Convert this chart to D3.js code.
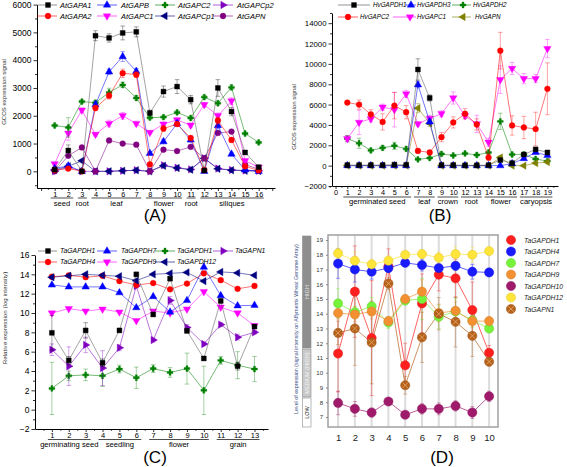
<!DOCTYPE html>
<html><head><meta charset="utf-8">
<script src="https://cdn.jsdelivr.net/npm/d3@7"></script>
<style>body{margin:0;background:#fff}svg{display:block}text{font-family:"Liberation Sans",Arial,sans-serif}</style>
</head><body><svg id="c" width="567" height="467"></svg>
<script>
// ---------------- Panel A data ----------------
const aSamples = d3.range(1, 17);
const aTickLabels = {1:"1",2:"2",3:"3",4:"4",5:"5",6:"6",7:"7",8:"8",9:"9",10:"10",11:"11",12:"12",13:"13",14:"14",15:"15",16:"16"};
const aGroups = ["seed","root","leaf","flower","root","siliques"];
const aGroupSpans = [[1,2],[3,3],[4,7],[8,10],[11,11],[12,16]];
const aYTicks = [0,1000,2000,3000,4000,5000,6000];
const atGAPA1 = [60,750,0,4880,4800,4980,5020,2100,2870,3050,2580,30,3000,2150,680,150];
const atGAPA1Err = [40,200,20,180,150,250,180,100,200,250,150,20,300,150,60,30];
const atGAPA2 = [50,100,0,2280,2720,3530,3480,250,1540,1700,1200,50,1830,1130,180,30];
const atGAPA2Err = [20,30,10,100,120,150,100,50,100,80,60,20,120,80,40,20];
const atGAPB = [100,200,0,2400,3580,4130,3600,650,1070,1720,1130,0,1650,620,50,0];
const atGAPBErr = [30,40,10,120,100,180,100,60,80,100,80,10,120,60,20,10];
const atGAPC2 = [1650,1580,2510,2470,2840,3110,2640,1930,1950,2120,1920,2670,2450,3020,1360,1040];
const atGAPC2Err = [50,350,60,80,150,100,80,60,60,60,60,60,70,80,50,50];
const atGAPC1 = [270,1370,2200,1330,1720,2000,1720,1400,1700,1850,1660,2400,2000,2530,380,150];
const atGAPC1Err = [50,250,80,60,120,120,80,50,70,70,70,80,100,120,50,30];
const atGAPCp1 = [50,180,380,0,0,20,40,0,200,120,60,470,90,40,20,10];
const atGAPCp2 = [0,150,0,0,0,20,40,0,220,130,70,470,100,50,30,20];
const atGAPN = [0,560,860,0,1110,1000,960,0,780,730,880,470,1380,1430,240,80];

// ---------------- Panel B data ----------------
const bPositions = d3.range(1, 19);
const bTickLabels = ["0","1","2","3","4","5","6","7","8","9","10","12","13","14","15","16","17","18","19"];
const bGroups = ["germinated seed","leaf","crown","root","flower","caryopsis"];
const bGroupSpans = [[1,6],[7,8],[9,10],[11,12],[13,15],[16,18]];
const bYTicks = [-2000,0,2000,4000,6000,8000,10000,12000,14000];
const hvGAPDH1 = [50,50,50,50,100,80,9450,6650,50,50,30,30,50,550,250,1100,1600,1300];
const hvGAPDH1Err = [20,20,20,20,30,20,1050,300,20,20,20,20,20,150,60,100,150,150];
const hvGAPDH3 = [0,0,0,0,0,0,7950,4300,0,0,0,0,0,0,200,700,1300,1000];
const hvGAPDH3Err = [0,0,0,0,0,0,300,250,0,0,0,0,0,0,50,100,120,100];
const hvGAPDH2 = [2650,2200,1500,1750,1950,1650,620,750,1150,1000,1200,1050,1300,4350,1100,1100,650,450];
const hvGAPDH2Err = [300,500,150,200,350,200,100,120,150,100,150,100,150,800,150,150,100,100];
const hvGAPC2 = [6200,6000,5050,4300,5900,5250,1450,1300,2800,4250,5100,4050,800,11300,3950,3750,3600,7550];
const hvGAPC2Err = [150,450,450,800,1300,650,200,150,450,550,500,550,300,1800,950,1100,1650,2550];
const hvGAPC1 = [2650,4250,4600,5750,5500,7050,4100,4650,5100,6650,4900,4100,2300,8450,9550,8550,8550,11500];
const hvGAPC1Err = [300,1200,300,300,1700,350,200,300,300,600,250,850,400,1350,600,500,400,900];
const hvGAPN = [0,0,0,0,0,0,5650,4150,0,0,0,0,0,800,0,0,250,350];
const hvGAPNErr = [0,0,0,0,0,0,450,300,0,0,0,0,0,200,0,0,50,50];

// ---------------- Panel C data ----------------
const cSamples = d3.range(1, 14);
const cGroups = ["germinating seed","seedling","flower","grain"];
const cGroupSpans = [[1,3],[4,6],[7,10],[11,13]];
const cYTicks = [-2,0,2,4,6,8,10,12,14,16];
const taC_GAPDH1 = [7.95,5.1,8.2,4.85,8.2,14.0,9.85,13.55,8.15,5.3,11.25,4.5,8.6];
const taC_GAPDH1Err = [1.8,0.4,0.8,0.4,0.2,0.2,0.2,0.2,0.2,0.2,0.2,0.4,0.2];
const taC_GAPDH7 = [12.9,12.7,12.7,12.7,12.1,10.55,11.7,10.1,11.3,14.75,11.8,10.75,10.8];
const taC_GAPDH1g = [2.2,3.5,3.6,3.5,4.2,3.3,4.25,3.85,4.25,2.0,5.1,4.6,4.2];
const taC_GAPDH1gErr = [2.7,0.5,0.6,1.1,0.4,1.1,0.4,0.5,1.6,2.5,0.4,1.4,1.3];
const taC_GAPN1 = [6.2,4.5,6.7,4.3,6.4,12.8,7.2,11.3,8.5,6.8,8.8,7.5,8.0];
const taC_GAPN1Err = [0.6,2.0,0.8,1.8,0.3,0.2,0.2,0.4,0.3,0.2,0.2,0.3,0.2];
const taC_GAPDH4 = [13.75,13.9,13.7,13.85,13.3,12.9,13.1,12.45,13.05,14.1,13.4,12.5,12.8];
const taC_GAPDH9 = [10.0,10.45,10.2,10.4,10.1,9.2,10.2,10.0,10.4,12.2,10.6,10.0,8.7];
const taC_GAPDH12 = [13.7,13.85,14.0,13.9,13.8,13.35,14.0,14.1,14.2,13.3,14.25,14.15,13.9];

// ---------------- Panel D data ----------------
const dSamples = d3.range(1, 11);
const dYTicks = d3.range(7, 20);
const dLevels = ["HIGH","MEDIUM (HIGH)","LOW"];
const taD_GAPDH1 = [11.3,15.5,12.35,17.2,10.5,14.7,16.65,16.4,14.25,11.35];
const taD_GAPDH1Err = [2.6,3.1,3.9,1.2,1.5,2.0,1.1,1.3,1.9,0.5];
const taD_GAPDH4 = [17.4,17.0,16.85,17.1,17.45,17.3,17.1,17.25,16.85,16.8];
const taD_GAPDH4Err = [1.0,0.85,0.5,0.3,0.2,0.4,0.2,0.3,0.5,0.2];
const taD_GAPDH7 = [14.7,14.1,14.5,13.4,14.9,15.0,13.8,14.15,13.55,13.0];
const taD_GAPDH7Err = [1.0,0.4,0.6,0.4,0.3,1.4,0.8,0.9,0.5,0.3];
const taD_GAPDH9 = [14.05,13.95,14.15,13.5,15.0,15.5,14.05,14.2,13.5,13.5];
const taD_GAPDH9Err = [0.4,0.5,0.5,0.3,0.3,0.8,0.6,0.6,0.4,0.3];
const taD_GAPDH10 = [7.95,7.55,7.3,8.05,7.15,7.55,7.55,7.75,7.3,8.4];
const taD_GAPDH10Err = [0.8,0.5,0.3,0.2,0.2,0.35,0.4,0.35,0.4,0.35];
const taD_GAPDH12 = [18.1,17.6,17.35,17.6,18.0,18.05,17.8,18.05,18.0,18.25];
const taD_GAPDH12Err = [0.35,0.6,0.35,0.3,0.2,0.3,0.4,0.5,0.5,0.2];
const taD_GAPN1 = [12.7,13.0,12.05,16.05,9.15,12.4,14.0,13.45,12.5,10.75];
const taD_GAPN1Err = [0.8,2.5,2.8,0.4,0.6,1.7,1.1,1.7,1.4,0.3];

// ---------------- helpers ----------------
const svg = d3.select("#c");
const FONT = "Liberation Sans, Arial, sans-serif";

function symPath(shape, size) {
  const t = {square:d3.symbolSquare, circle:d3.symbolCircle, tri:d3.symbolTriangle, cross:d3.symbolCross, diamond:d3.symbolDiamond}[shape];
  return d3.symbol().type(t).size(size)();
}
function rotOf(r){ return r==="down"?180:r==="left"?-90:r==="right"?90:0; }

function marker(g, cx, cy, st) {
  g.append("path").attr("d", symPath(st.shape, st.size))
    .attr("transform", `translate(${cx},${cy}) rotate(${rotOf(st.rot)})`)
    .attr("fill", st.color).attr("stroke", st.color).attr("stroke-width", 0.4);
}

function drawSeries(g, x, y, xs, vals, errs, st) {
  const line = d3.line().x((d,i)=>x(xs[i])).y(d=>y(d));
  g.append("path").datum(vals).attr("d", line).attr("fill","none")
    .attr("stroke", st.line || st.color).attr("stroke-width", 0.9).attr("stroke-opacity", 0.6);
  if (errs) {
    vals.forEach((v,i)=>{
      const e = errs[i]; if (!e) return;
      const cx = x(xs[i]);
      const eg = g.append("g").attr("stroke", st.color).attr("stroke-opacity", 0.45).attr("stroke-width", 0.8);
      eg.append("line").attr("x1",cx).attr("x2",cx).attr("y1",y(v-e)).attr("y2",y(v+e));
      eg.append("line").attr("x1",cx-2.3).attr("x2",cx+2.3).attr("y1",y(v-e)).attr("y2",y(v-e));
      eg.append("line").attr("x1",cx-2.3).attr("x2",cx+2.3).attr("y1",y(v+e)).attr("y2",y(v+e));
    });
  }
  vals.forEach((v,i)=> marker(g, x(xs[i]), y(v), st));
}

function originAxes(g, x, y, o) {
  const x0 = x.range()[0], yb = y.range()[0];
  const ya = g.append("g").attr("transform", `translate(${x0},0)`)
    .call(d3.axisLeft(y).tickValues(o.yMajor).tickSize(3.5).tickSizeOuter(0).tickPadding(2).tickFormat(d3.format("d")));
  g.append("g").attr("transform", `translate(${x0},0)`)
    .call(d3.axisLeft(y).tickValues(o.yMinor).tickSize(2).tickSizeOuter(0).tickFormat(""))
    .select(".domain").remove();
  ya.selectAll("text").attr("font-size", o.yFont).attr("font-family", FONT).attr("fill","#000");
  const xa = g.append("g").attr("transform", `translate(0,${yb})`)
    .call(d3.axisBottom(x).tickValues(o.xMajor).tickSize(3).tickSizeOuter(0).tickPadding(0.5).tickFormat(o.xFormat));
  g.append("g").attr("transform", `translate(0,${yb})`)
    .call(d3.axisBottom(x).tickValues(o.xMinor).tickSize(1.8).tickSizeOuter(0).tickFormat(""))
    .select(".domain").remove();
  xa.selectAll("text").attr("font-size", o.xFont).attr("font-family", FONT).attr("fill","#000");
  g.selectAll(".domain").attr("stroke-width", 1);
  g.selectAll(".tick line").attr("stroke-width", 0.8);
  g.append("text").attr("transform", `translate(${o.yLabelX},${o.yLabelY}) rotate(-90)`)
    .attr("text-anchor","middle").attr("font-size", o.yLabelFont).attr("fill", "#333").text(o.yLabel);
  o.groups.forEach((name, k)=>{
    const [a,b] = o.spans[k];
    g.append("line").attr("x1", x(a)-4).attr("x2", x(b)+5).attr("y1", o.ulY).attr("y2", o.ulY)
      .attr("stroke","#000").attr("stroke-width",0.7);
    g.append("text").attr("x", (x(a)+x(b))/2 + 0.5).attr("y", o.gY).attr("text-anchor","middle")
      .attr("font-size", o.gFont).text(name);
  });
  g.append("text").attr("x", o.titleX).attr("y", o.titleY).attr("text-anchor","middle")
    .attr("font-size", 17).text(o.title);
}

function legend(g, items, font) {
  items.forEach(it=>{
    g.append("line").attr("x1", it.lx1).attr("x2", it.lx2).attr("y1", it.y).attr("y2", it.y)
      .attr("stroke", it.st.line || it.st.color).attr("stroke-width", 0.9).attr("stroke-opacity", 0.7);
    marker(g, it.mx, it.y, it.st);
    g.append("text").attr("x", it.tx).attr("y", it.y + font*0.36).attr("font-size", font)
      .attr("font-style","italic").text(it.name);
  });
}

// ======================= PANEL A =======================
(function(){
  const g = svg.append("g");
  const x = d3.scaleLinear().domain([-0.3, 17.2]).range([37, 275]);
  const y = d3.scaleLinear().domain([-600, 6000]).range([188, 4.6]);
  const S = {
    A1:{color:"#000000", line:"#555", shape:"square", size:24},
    A2:{color:"#ff0000", shape:"circle", size:26},
    B:{color:"#0000ff", shape:"tri", size:24},
    C2:{color:"#008000", shape:"cross", size:19},
    C1:{color:"#ff00ff", shape:"tri", rot:"down", size:24},
    Cp1:{color:"#000080", shape:"tri", rot:"left", size:24},
    Cp2:{color:"#8000c0", shape:"tri", rot:"right", size:24},
    N:{color:"#800080", shape:"circle", size:26}
  };
  originAxes(g, x, y, {
    yMajor:aYTicks, yMinor:d3.range(-500, 6001, 500).filter(v=>v%1000!==0), yFont:8.5,
    xMajor:d3.range(0, 18), xMinor:d3.range(0.5, 17.1, 1), xFormat:d=>aTickLabels[d]||"", xFont:7.3,
    yLabel:"GCOS expression signal", yLabelX:6, yLabelY:92, yLabelFont:6,
    groups:aGroups, spans:aGroupSpans, ulY:198, gY:205.5, gFont:7.6,
    title:"(A)", titleX:155, titleY:221
  });
  drawSeries(g, x, y, aSamples, atGAPCp2, null, S.Cp2);
  drawSeries(g, x, y, aSamples, atGAPCp1, null, S.Cp1);
  drawSeries(g, x, y, aSamples, atGAPN, null, S.N);
  drawSeries(g, x, y, aSamples, atGAPC1, atGAPC1Err, S.C1);
  drawSeries(g, x, y, aSamples, atGAPC2, atGAPC2Err, S.C2);
  drawSeries(g, x, y, aSamples, atGAPB, atGAPBErr, S.B);
  drawSeries(g, x, y, aSamples, atGAPA2, atGAPA2Err, S.A2);
  drawSeries(g, x, y, aSamples, atGAPA1, atGAPA1Err, S.A1);
  legend(g, [
    {name:"AtGAPA1", st:S.A1, y:5, lx1:37, lx2:57, mx:48, tx:60},
    {name:"AtGAPB", st:S.B, y:5, lx1:97, lx2:117, mx:107, tx:121},
    {name:"AtGAPC2", st:S.C2, y:5, lx1:155, lx2:175, mx:165, tx:178},
    {name:"AtGAPCp2", st:S.Cp2, y:5, lx1:213, lx2:233, mx:223, tx:237},
    {name:"AtGAPA2", st:S.A2, y:16, lx1:37, lx2:57, mx:48, tx:60},
    {name:"AtGAPC1", st:S.C1, y:16, lx1:97, lx2:117, mx:107, tx:121},
    {name:"AtGAPCp1", st:S.Cp1, y:16, lx1:155, lx2:175, mx:165, tx:178},
    {name:"AtGAPN", st:S.N, y:16, lx1:213, lx2:233, mx:223, tx:237}
  ], 7.5);
})();

// ======================= PANEL B =======================
(function(){
  const g = svg.append("g");
  const x = d3.scaleLinear().domain([-0.3, 18.9]).range([332, 558]);
  const y = d3.scaleLinear().domain([-2000, 15000]).range([186, 13]);
  const S = {
    D1:{color:"#000000", line:"#555", shape:"square", size:24},
    D3:{color:"#0000ff", shape:"tri", size:24},
    D2:{color:"#008000", shape:"cross", size:19},
    C2:{color:"#ff0000", shape:"circle", size:26},
    C1:{color:"#ff00ff", shape:"tri", rot:"down", size:24},
    N:{color:"#808000", shape:"tri", rot:"left", size:24}
  };
  originAxes(g, x, y, {
    yMajor:bYTicks, yMinor:d3.range(-1000, 15001, 2000), yFont:7.8,
    xMajor:d3.range(0, 19), xMinor:d3.range(-0.5, 18.9, 0.5).filter(v=>v%1!==0), xFormat:d=>bTickLabels[d], xFont:7.3,
    yLabel:"GCOS expression signal", yLabelX:296, yLabelY:117, yLabelFont:6,
    groups:bGroups, spans:bGroupSpans, ulY:197, gY:204, gFont:7.6,
    title:"(B)", titleX:440, titleY:221
  });
  drawSeries(g, x, y, bPositions, hvGAPDH2, hvGAPDH2Err, S.D2);
  drawSeries(g, x, y, bPositions, hvGAPC1, hvGAPC1Err, S.C1);
  drawSeries(g, x, y, bPositions, hvGAPC2, hvGAPC2Err, S.C2);
  drawSeries(g, x, y, bPositions, hvGAPN, hvGAPNErr, S.N);
  drawSeries(g, x, y, bPositions, hvGAPDH3, hvGAPDH3Err, S.D3);
  drawSeries(g, x, y, bPositions, hvGAPDH1, hvGAPDH1Err, S.D1);
  legend(g, [
    {name:"HvGAPDH1", st:S.D1, y:5, lx1:338, lx2:370, mx:354, tx:373},
    {name:"HvGAPDH3", st:S.D3, y:5, lx1:405, lx2:416, mx:411, tx:417},
    {name:"HvGAPDH2", st:S.D2, y:5, lx1:452, lx2:471, mx:463, tx:473},
    {name:"HvGAPC2", st:S.C2, y:17, lx1:338, lx2:358, mx:348, tx:360},
    {name:"HvGAPC1", st:S.C1, y:17, lx1:393, lx2:416, mx:410, tx:417},
    {name:"HvGAPN", st:S.N, y:17, lx1:452, lx2:471, mx:463, tx:475}
  ], 6.3);
})();

// ======================= PANEL C =======================
(function(){
  const g = svg.append("g");
  const x = d3.scaleLinear().domain([0, 13.8]).range([35, 268]);
  const y = d3.scaleLinear().domain([-2, 16]).range([429, 255]);
  const S = {
    D1:{color:"#000000", line:"#555", shape:"square", size:24},
    D7:{color:"#0000ff", shape:"tri", size:24},
    D1g:{color:"#008000", shape:"cross", size:19},
    N1:{color:"#8000c0", shape:"tri", rot:"right", size:24},
    D4:{color:"#ff0000", shape:"circle", size:26},
    D9:{color:"#ff00ff", shape:"tri", rot:"down", size:24},
    D12:{color:"#000080", shape:"tri", rot:"left", size:24}
  };
  originAxes(g, x, y, {
    yMajor:cYTicks, yMinor:d3.range(-1, 16, 2), yFont:8.5,
    xMajor:d3.range(1, 14), xMinor:d3.range(0.5, 13.8, 0.5).filter(v=>v%1!==0), xFormat:d=>String(d), xFont:7.5,
    yLabel:"Relative expression (log intensity)", yLabelX:7, yLabelY:318, yLabelFont:6.2,
    groups:cGroups, spans:cGroupSpans, ulY:439.5, gY:447, gFont:7.6,
    title:"(C)", titleX:155, titleY:463
  });
  drawSeries(g, x, y, cSamples, taC_GAPDH1g, taC_GAPDH1gErr, S.D1g);
  drawSeries(g, x, y, cSamples, taC_GAPDH9, null, S.D9);
  drawSeries(g, x, y, cSamples, taC_GAPN1, taC_GAPN1Err, S.N1);
  drawSeries(g, x, y, cSamples, taC_GAPDH7, null, S.D7);
  drawSeries(g, x, y, cSamples, taC_GAPDH4, null, S.D4);
  drawSeries(g, x, y, cSamples, taC_GAPDH12, null, S.D12);
  drawSeries(g, x, y, cSamples, taC_GAPDH1, taC_GAPDH1Err, S.D1);
  legend(g, [
    {name:"TaGAPDH1", st:S.D1, y:251, lx1:38, lx2:57, mx:48, tx:60},
    {name:"TaGAPDH7", st:S.D7, y:251, lx1:97, lx2:117, mx:107, tx:121},
    {name:"TaGAPDH1", st:S.D1g, y:251, lx1:155, lx2:175, mx:165, tx:177},
    {name:"TaGAPN1", st:S.N1, y:251, lx1:213, lx2:233, mx:223, tx:235},
    {name:"TaGAPDH4", st:S.D4, y:262, lx1:38, lx2:57, mx:48, tx:60},
    {name:"TaGAPDH9", st:S.D9, y:262, lx1:97, lx2:117, mx:107, tx:121},
    {name:"TaGAPDH12", st:S.D12, y:262, lx1:155, lx2:175, mx:165, tx:177}
  ], 6.8);
})();

// ======================= PANEL D =======================
(function(){
  const g = svg.append("g");
  const x = d3.scaleLinear().domain([0.4, 10.53]).range([328, 498]);
  const y = d3.scaleLinear().domain([6.32, 19.34]).range([427, 235]);
  dSamples.forEach(s=> g.append("line").attr("x1",x(s)).attr("x2",x(s)).attr("y1",235).attr("y2",427)
    .attr("stroke","#dcdcdc").attr("stroke-width",2));
  g.append("rect").attr("x",328).attr("y",235).attr("width",170).attr("height",192)
    .attr("fill","none").attr("stroke","#a0a0a0").attr("stroke-width",1.5);
  const ya = g.append("g").attr("transform","translate(328,0)")
    .call(d3.axisLeft(y).tickValues(dYTicks).tickSize(2).tickPadding(3));
  ya.select(".domain").remove();
  ya.selectAll("line").attr("stroke","#888");
  ya.selectAll("text").attr("font-size",6).attr("fill","#333").attr("font-family",FONT);
  const xa = g.append("g").attr("transform","translate(0,427)")
    .call(d3.axisBottom(x).tickValues(dSamples).tickSize(0).tickPadding(7));
  xa.select(".domain").remove();
  xa.selectAll("text").attr("font-size",9.5).attr("fill","#222").attr("font-family",FONT);
  const lv = [{y0:236,y1:348,fill:"#8e8e8e",tc:"#e8e8e8"},{y0:349,y1:397,fill:"#c9c9c9",tc:"#f4f4f4"},{y0:398,y1:427,fill:"#fff",tc:"#222"}];
  lv.forEach((b,i)=>{
    g.append("rect").attr("x",302.5).attr("y",b.y0).attr("width",8.5).attr("height",b.y1-b.y0)
      .attr("fill",b.fill).attr("stroke","#8a8a8a").attr("stroke-width",0.6);
    g.append("text").attr("transform",`translate(${309.2},${(b.y0+b.y1)/2}) rotate(-90)`)
      .attr("text-anchor","middle").attr("font-size",5.5).attr("fill",b.tc).text(dLevels[i]);
  });
  g.append("text").attr("transform","translate(297.5,329) rotate(-90)").attr("text-anchor","middle")
    .attr("font-size",5.3).attr("fill","#3a4f8a")
    .text("Level of expression (signal intensity on Affymetrix Wheat Genome Array)");
  const S = [
    {name:"TaGAPDH1", v:taD_GAPDH1, e:taD_GAPDH1Err, color:"#ff1f1f"},
    {name:"TaGAPDH4", v:taD_GAPDH4, e:taD_GAPDH4Err, color:"#1a1aff"},
    {name:"TaGAPDH7", v:taD_GAPDH7, e:taD_GAPDH7Err, color:"#77f23a"},
    {name:"TaGAPDH9", v:taD_GAPDH9, e:taD_GAPDH9Err, color:"#f39132"},
    {name:"TaGAPDH10", v:taD_GAPDH10, e:taD_GAPDH10Err, color:"#a01a6c"},
    {name:"TaGAPDH12", v:taD_GAPDH12, e:taD_GAPDH12Err, color:"#ffe43a"},
    {name:"TaGAPN1", v:taD_GAPN1, e:taD_GAPN1Err, color:"#b5621c", hatch:true}
  ];
  function dot(cx, cy, s) {
    g.append("circle").attr("cx",cx).attr("cy",cy).attr("r",4.6).attr("fill",s.color)
      .attr("stroke", d3.color(s.color).darker(0.4)).attr("stroke-width",0.5);
    if (s.hatch) {
      g.append("path").attr("d",`M${cx-2.8},${cy-2.8}L${cx+2.8},${cy+2.8}M${cx+2.8},${cy-2.8}L${cx-2.8},${cy+2.8}`)
        .attr("stroke","#e7a060").attr("stroke-width",0.9);
    }
  }
  const line = d3.line().x((d,i)=>x(dSamples[i])).y(d=>y(d));
  S.forEach(s=>{
    s.v.forEach((v,i)=>{
      const cx = x(dSamples[i]), e = s.e[i];
      const eg = g.append("g").attr("stroke", s.color).attr("stroke-opacity",0.5).attr("stroke-width",0.8);
      eg.append("line").attr("x1",cx).attr("x2",cx).attr("y1",y(v-e)).attr("y2",y(v+e));
      [v-e, v+e].forEach(t=> eg.append("line").attr("x1",cx-2).attr("x2",cx+2).attr("y1",y(t)).attr("y2",y(t)));
    });
    g.append("path").datum(s.v).attr("d",line).attr("fill","none").attr("stroke",s.color)
      .attr("stroke-width",1).attr("stroke-opacity",0.7);
  });
  S.forEach(s=> s.v.forEach((v,i)=> dot(x(dSamples[i]), y(v), s)));
  S.forEach((s,i)=>{
    const ly = 240 + i*11.5;
    dot(511, ly, s);
    g.append("text").attr("x",524).attr("y",ly+2.5).attr("font-size",6.8).attr("font-style","italic")
      .attr("fill","#222").text(s.name);
  });
  g.append("text").attr("x",442).attr("y",463).attr("text-anchor","middle").attr("font-size",17).text("(D)");
})();
</script>
</body></html>
